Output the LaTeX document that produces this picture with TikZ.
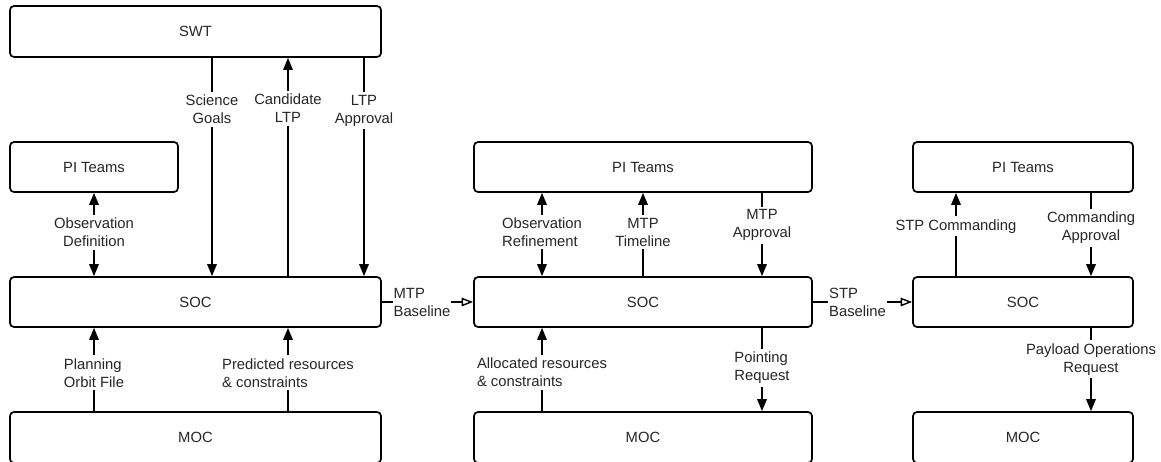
\documentclass[tikz,border=0pt]{standalone}
\usepackage{fontspec}
\setmainfont{Liberation Sans}
\usetikzlibrary{arrows.meta}
\begin{document}
\begin{tikzpicture}[x=1pt,y=-1pt,
  font=\fontsize{14.8}{18}\selectfont,
  box/.style={draw, line width=1.7pt, rounded corners=4pt, minimum height=50pt, inner sep=0pt, text=black!85},
  conn/.style={line width=1.6pt},
  arr/.style={conn, -{Triangle[length=12pt,width=9.5pt]}},
  barr/.style={conn, {Triangle[length=12pt,width=9.5pt]}-{Triangle[length=12pt,width=9.5pt]}},
  oarr/.style={conn, -{Triangle[open,length=11.5pt,width=8.5pt,line width=1.4pt]}},
  lab/.style={fill=white, inner xsep=1pt, inner ysep=3pt, text=black!85, align=center},
  labl/.style={lab, align=left}
]
\useasboundingbox (0,0) rectangle (1161,461);
\begin{scope}
\clip (0,0) rectangle (1161,461);
% boxes
\node[box, minimum width=371pt, minimum height=51pt] (swt) at (195.5,31.5) {SWT};
\node[box, minimum width=168pt] (pi1) at (94,167) {PI Teams};
\node[box, minimum width=371pt] (soc1) at (195.5,302) {SOC};
\node[box, minimum width=371pt, minimum height=51pt] (moc1) at (195.5,437.5) {MOC};
\node[box, minimum width=338pt] (pi2) at (643,167) {PI Teams};
\node[box, minimum width=338pt] (soc2) at (643,302) {SOC};
\node[box, minimum width=338pt, minimum height=51pt] (moc2) at (643,437.5) {MOC};
\node[box, minimum width=220pt] (pi3) at (1023,167) {PI Teams};
\node[box, minimum width=220pt] (soc3) at (1023,302) {SOC};
\node[box, minimum width=220pt, minimum height=51pt] (moc3) at (1023,437.5) {MOC};
\end{scope}
% x positions
\coordinate (xa) at (94,0);
\coordinate (xb) at (212,0);
\coordinate (xc) at (288,0);
\coordinate (xd) at (364,0);
\coordinate (xe) at (542,0);
\coordinate (xf) at (643,0);
\coordinate (xg) at (762,0);
\coordinate (xh) at (956,0);
\coordinate (xi) at (1091,0);
% left column
\draw[barr] (pi1.south -| xa) -- node[lab, pos=0.476] (l1) {Observation\\Definition} (soc1.north -| xa);
\draw[arr] (swt.south -| xb) -- node[lab, pos=0.236] (l2) {Science\\Goals} (soc1.north -| xb);
\draw[arr] (soc1.north -| xc) -- node[lab, pos=0.768] (l3) {Candidate\\LTP} (swt.south -| xc);
\draw[arr] (swt.south -| xd) -- node[lab, pos=0.241] (l4) {LTP\\Approval} (soc1.north -| xd);
\draw[arr] (moc1.north -| xa) -- node[labl, pos=0.459] (l5) {Planning\\Orbit File} (soc1.south -| xa);
\draw[arr] (moc1.north -| xc) -- node[labl, pos=0.459] (l6) {Predicted resources\\\& constraints} (soc1.south -| xc);
\draw[oarr] (soc1.east) -- node[labl, pos=0.44, inner ysep=1pt] (l7) {MTP\\Baseline} (soc2.west);
% middle column
\draw[barr] (pi2.south -| xe) -- node[labl, pos=0.47] (l8) {Observation\\Refinement} (soc2.north -| xe);
\draw[arr] (soc2.north -| xf) -- node[lab, pos=0.53] (l9) {MTP\\Timeline} (pi2.south -| xf);
\draw[arr] (pi2.south -| xg) -- node[lab, pos=0.39] (l10) {MTP\\Approval} (soc2.north -| xg);
\draw[arr] (moc2.north -| xe) -- node[labl, pos=0.465] (l11) {Allocated resources\\\& constraints} (soc2.south -| xe);
\draw[arr] (soc2.south -| xg) -- node[labl, pos=0.48] (l12) {Pointing\\Request} (moc2.north -| xg);
\draw[oarr] (soc2.east) -- node[labl, pos=0.45, inner ysep=1pt] (l13) {STP\\Baseline} (soc3.west);
% right column
\draw[arr] (soc3.north -| xh) -- node[lab, pos=0.6] (l14) {STP Commanding} (pi3.south -| xh);
\draw[arr] (pi3.south -| xi) -- node[lab, pos=0.42] (l15) {Commanding\\Approval} (soc3.north -| xi);
\draw[arr] (soc3.south -| xi) -- node[lab, pos=0.376] (l16) {Payload Operations\\Request} (moc3.north -| xi);
\end{tikzpicture}
\end{document}
